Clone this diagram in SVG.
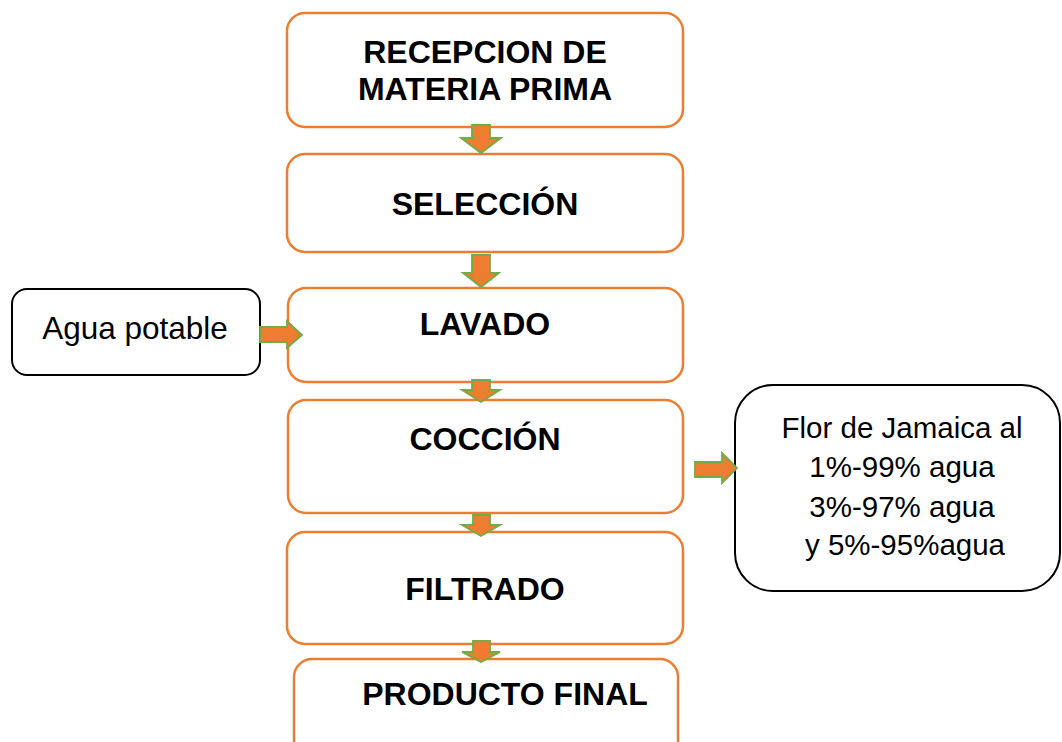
<svg xmlns="http://www.w3.org/2000/svg" width="1062" height="742" viewBox="0 0 1062 742">
<style>
.step{fill:#fff;stroke:#ED7D31;stroke-width:2.5}
.side{fill:#fff;stroke:#000;stroke-width:2}
.arr{fill:#ED7D31;stroke:#70AD47;stroke-width:1.8;stroke-linejoin:miter}
.b{font-family:"Liberation Sans",Arial,sans-serif;font-weight:bold;font-size:32px;fill:#000;text-anchor:middle}
.r{font-family:"Liberation Sans",Arial,sans-serif;font-size:29.5px;fill:#000;text-anchor:middle}
</style>
<rect width="1062" height="742" fill="#fff"/>
<g id="n1"><rect class="step" x="287" y="13" width="396" height="114" rx="18"/>
<text class="b" x="485" y="63">RECEPCION DE</text><text class="b" x="485" y="100">MATERIA PRIMA</text></g>
<g id="n2"><rect class="step" x="287" y="154" width="396" height="98" rx="18"/>
<text class="b" x="485" y="215">SELECCIÓN</text></g>
<g id="n3"><rect class="step" x="288" y="288" width="395" height="94" rx="18"/>
<text class="b" x="485" y="335">LAVADO</text></g>
<g id="n4"><rect class="step" x="288" y="400" width="395" height="113" rx="18"/>
<text class="b" x="485" y="450">COCCIÓN</text></g>
<g id="n5"><rect class="step" x="287" y="532" width="396" height="112" rx="18"/>
<text class="b" x="485" y="600">FILTRADO</text></g>
<g id="n6"><rect class="step" x="294" y="659" width="384" height="110" rx="18"/>
<text class="b" x="505" y="705">PRODUCTO FINAL</text></g>
<g id="agua"><rect class="side" x="12" y="289" width="248" height="86" rx="15"/>
<text class="r" x="135" y="339" style="font-size:31.5px">Agua potable</text></g>
<g id="flor"><rect class="side" x="735" y="385" width="325" height="206" rx="38"/>
<text class="r" x="902" y="438">Flor de Jamaica al</text>
<text class="r" x="902" y="477">1%-99% agua</text>
<text class="r" x="902" y="517">3%-97% agua</text>
<text class="r" x="905" y="555">y 5%-95%agua</text></g>
<g id="connectors">
<polygon class="arr" points="472,125 490,125 490,138 501,138 481,153 461,138 472,138"/>
<polygon class="arr" points="472,255 490,255 490,273 499,273 481,287 463,273 472,273"/>
<polygon class="arr" points="472,380 490,380 490,390 500,390 481,402 462,390 472,390"/>
<polygon class="arr" points="473,515 490,515 490,525 500,525 481,536 462,525 473,525"/>
<polygon class="arr" points="473,641 490,641 490,652 500,652 481,662 462,652 473,652"/>
<polygon class="arr" points="260,327 287,327 287,321 302,335 287,348 287,342 260,342"/>
<polygon class="arr" points="695,462 722,462 722,453 737,468 722,483 722,477 695,477"/>
</g>
</svg>
